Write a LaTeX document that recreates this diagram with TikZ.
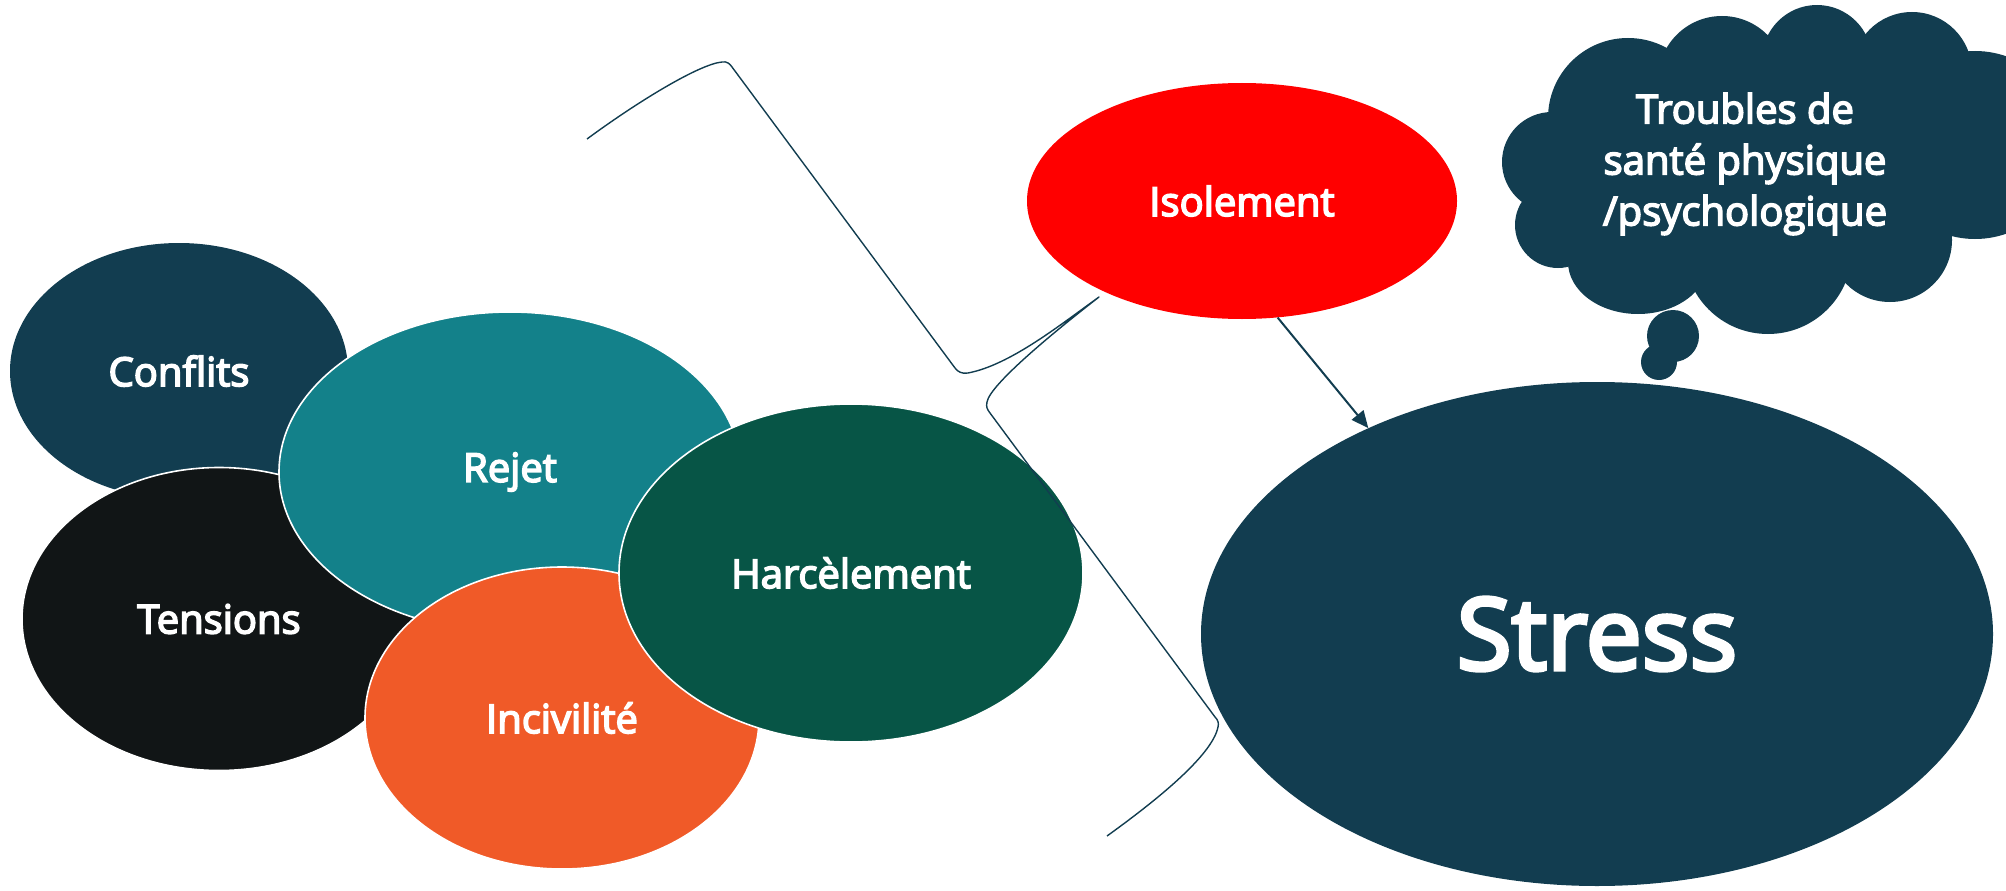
\documentclass[tikz,border=0pt]{standalone}
\usepackage{fontspec}
\setmainfont{Open Sans}[UprightFeatures={FakeBold=4}]
\usetikzlibrary{shapes.geometric,arrows.meta}
\definecolor{navy}{HTML}{123D50}
\definecolor{tealc}{HTML}{13818A}
\definecolor{inkc}{HTML}{111516}
\definecolor{orangec}{HTML}{F05A28}
\definecolor{greenc}{HTML}{075546}
\definecolor{redc}{HTML}{FF0000}
\begin{document}
\begin{tikzpicture}[x=1pt,y=-1pt,
  blob/.style={ellipse, inner sep=0pt, text=white, font=\fontsize{40}{48}\selectfont},
  rim/.style={draw=white, line width=1.6pt},
  bracket/.style={draw=navy, line width=1.4pt, line join=round},
  link/.style={draw=navy, line width=2pt, -{Triangle[length=17pt,width=15pt]}}]
\useasboundingbox (0,0) rectangle (2006,891);
\clip (0,0) rectangle (2006,891);

% overlapping group of causes
\node[blob, fill=navy, minimum width=338pt, minimum height=256pt] (conf) at (179,371) {Conflits};
\node[blob, rim, fill=inkc, minimum width=394pt, minimum height=303pt] (tens) at (219,619) {Tensions};
\node[blob, rim, fill=tealc, minimum width=462pt, minimum height=320pt] (rej) at (510,472) {Rejet};
\node[blob, rim, fill=orangec, minimum width=394pt, minimum height=302pt] (inc) at (562,718) {Incivilité};
\node[blob, rim, fill=greenc, minimum width=464pt, minimum height=338pt] (harc) at (851,573) {Harcèlement};

% isolation and stress
\node[blob, fill=redc, minimum width=430pt, minimum height=236pt] (iso) at (1242,201) {Isolement};
\node[blob, fill=navy, minimum width=792pt, minimum height=504pt,
      font=\fontsize{100}{110}\selectfont] (stress) at (1597,634) {Stress};

\draw[link] (iso.-73) -- (stress.138);

% curly bracket grouping the causes
\draw[bracket] (587,139) .. controls (640,100) and (700,64) .. (722,62)
  .. controls (727,61) and (730,64) .. (732,67)
  -- (955,368)
  .. controls (958,372) and (962,374) .. (968,373)
  .. controls (1010,365) and (1060,325) .. (1099,297)
  .. controls (1050,335) and (990,385) .. (987,402)
  .. controls (986,407) and (987,409) .. (990,413)
  -- (1215,717)
  .. controls (1218,720) and (1219,723) .. (1218,727)
  .. controls (1212,757) and (1150,805) .. (1107,836);

% thought cloud
\fill[navy] (1628,118) -- (1722,80) -- (1817,60) -- (1912,72) -- (1975,145)
  -- (1890,240) -- (1768,250) -- (1638,262) -- (1558,225) -- (1552,162) -- cycle;
\fill[navy] (1628,118) circle[radius=80pt];
\fill[navy] (1722,80) circle[radius=64pt];
\fill[navy] (1817,60) circle[radius=55pt];
\fill[navy] (1912,72) circle[radius=60pt];
\fill[navy] (1975,145) circle[radius=94pt];
\fill[navy] (1890,240) circle[radius=62pt];
\fill[navy] (1768,250) circle[radius=84pt];
\fill[navy] (1638,262) ellipse[x radius=70pt, y radius=52pt];
\fill[navy] (1558,225) circle[radius=43pt];
\fill[navy] (1552,162) circle[radius=50pt];
\fill[navy] (1673,336) circle[radius=26pt];
\fill[navy] (1659,362) circle[radius=18pt];
\node[text=white, align=center, inner sep=0pt, font=\fontsize{40}{51}\selectfont]
  (cloudtxt) at (1745,164) {Troubles de\\santé physique\\/psychologique};
\end{tikzpicture}
\end{document}
